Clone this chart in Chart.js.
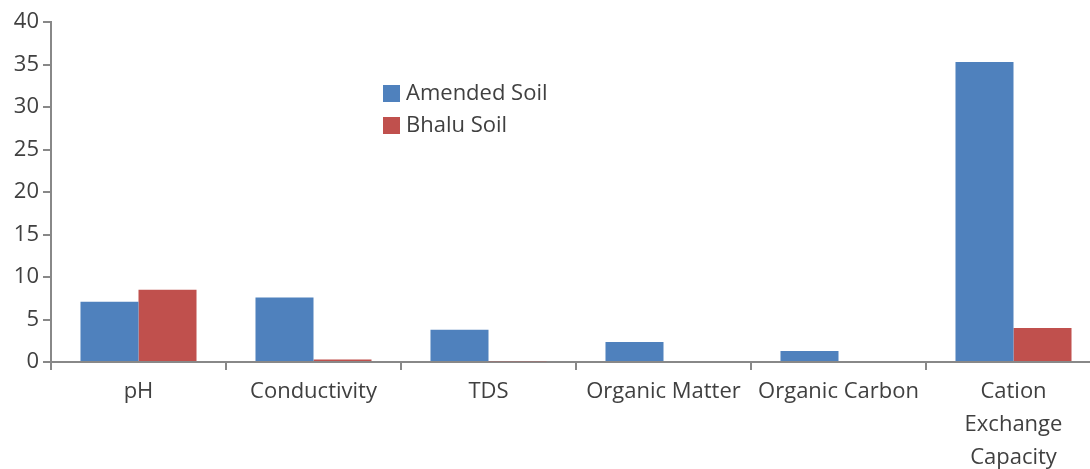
<!DOCTYPE html>
<html>
<head>
<meta charset="utf-8">
<script src="https://cdn.jsdelivr.net/npm/chart.js@4/dist/chart.umd.min.js"></script>
<style>
  html, body { margin: 0; padding: 0; background: #fff; overflow: hidden; }
  #wrap { width: 1101px; height: 469px; }
</style>
</head>
<body>
<div id="wrap"><canvas id="chart-bars"></canvas></div>
<script>
// data
var categories = ["pH", "Conductivity", "TDS", "Organic Matter", "Organic Carbon", ["Cation", "Exchange", "Capacity"]];
var amendedSoil = [7.1, 7.6, 3.8, 2.35, 1.3, 35.3];
var bhaluSoil = [8.5, 0.3, 0.1, 0, 0, 4.0];
var yTicks = [0, 5, 10, 15, 20, 25, 30, 35, 40];

var axisColor = "#888";
var textColor = "#404040";
var fontFamily = "'Open Sans', sans-serif";

// legend drawn inside the plot area
var innerLegend = {
  id: "innerLegend",
  afterDraw: function (chart) {
    var c = chart.ctx;
    var x = 383, y = 93;
    c.save();
    c.font = "22px " + fontFamily;
    c.textBaseline = "middle";
    chart.data.datasets.forEach(function (ds, i) {
      var yy = y + i * 32;
      c.fillStyle = ds.backgroundColor;
      c.fillRect(x, yy - 8, 17, 17);
      c.fillStyle = textColor;
      c.fillText(ds.label, x + 23, yy + 1);
    });
    c.restore();
  }
};

var ctx = document.getElementById("chart-bars").getContext("2d");

new Chart(ctx, {
  type: "bar",
  data: {
    labels: categories,
    datasets: [{
      label: "Amended Soil",
      backgroundColor: "#4F81BD",
      borderWidth: 0,
      data: amendedSoil,
      categoryPercentage: 0.663,
      barPercentage: 1.0
    }, {
      label: "Bhalu Soil",
      backgroundColor: "#C0504D",
      borderWidth: 0,
      data: bhaluSoil,
      categoryPercentage: 0.663,
      barPercentage: 1.0
    }]
  },
  options: {
    responsive: true,
    maintainAspectRatio: false,
    animation: false,
    layout: {
      padding: { top: 22, right: 0, left: 0, bottom: 0 }
    },
    plugins: {
      legend: { display: false },
      tooltip: { enabled: false }
    },
    scales: {
      y: {
        min: 0,
        max: 40,
        afterFit: function (s) { s.width = 51; },
        afterBuildTicks: function (s) {
          s.ticks = yTicks.map(function (v) { return { value: v }; });
        },
        border: { display: true, color: axisColor, width: 2 },
        grid: {
          display: true,
          drawOnChartArea: false,
          drawTicks: true,
          tickLength: 8,
          color: axisColor,
          lineWidth: 2
        },
        ticks: {
          padding: 4,
          color: textColor,
          font: { size: 22, family: fontFamily }
        }
      },
      x: {
        afterFit: function (s) { s.height = 107; },
        border: { display: true, color: axisColor, width: 2 },
        grid: {
          display: true,
          offset: true,
          drawOnChartArea: false,
          drawTicks: true,
          tickLength: 8,
          color: axisColor,
          lineWidth: 2
        },
        ticks: {
          padding: 5,
          maxRotation: 0,
          autoSkip: false,
          color: textColor,
          font: { size: 22, family: fontFamily, lineHeight: 1.5 }
        }
      }
    }
  },
  plugins: [innerLegend]
});
</script>
</body>
</html>
